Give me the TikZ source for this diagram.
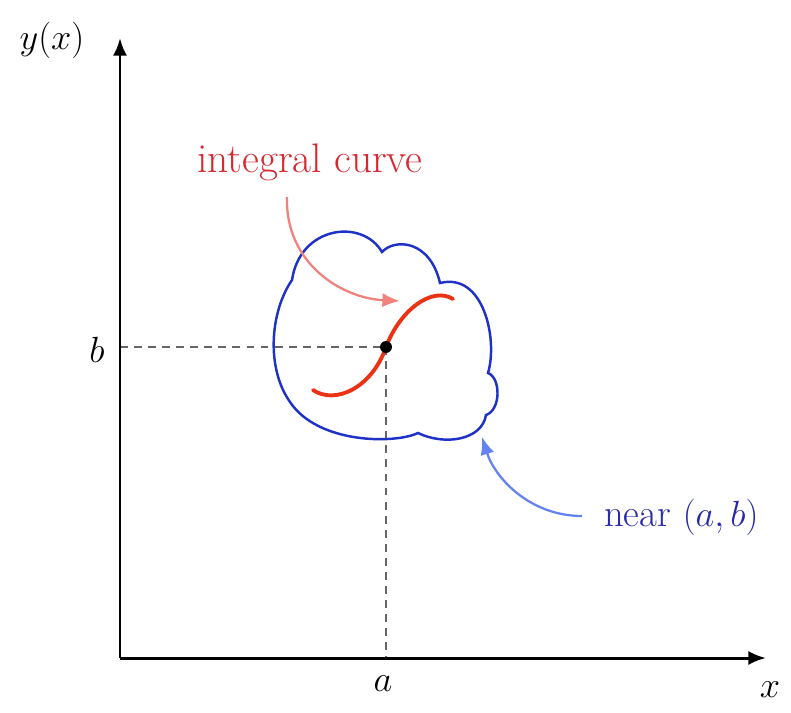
\documentclass[tikz,border=0pt]{standalone}
\usetikzlibrary{arrows.meta}
\definecolor{blobblue}{RGB}{30,50,200}
\definecolor{txtblue}{RGB}{40,40,170}
\definecolor{arrblue}{RGB}{100,130,240}
\definecolor{curvered}{RGB}{235,50,20}
\definecolor{txtred}{RGB}{215,40,50}
\definecolor{salmon}{RGB}{240,130,125}
\tikzset{
  axis/.style={line width=1.7pt,-{Latex[length=10pt,width=8pt]}},
  guide/.style={line width=1.4pt,gray!80!black,dash pattern=on 4.5pt off 3.5pt},
  lbl/.style={font=\fontsize{23.5}{28}\selectfont},
  nearlbl/.style={font=\fontsize{22}{26}\selectfont},
  axlbl/.style={font=\fontsize{20}{24}\selectfont},
  pointer/.style={line width=1.3pt,-{Latex[length=10pt,width=8pt]}}
}
\begin{document}
\begin{tikzpicture}[x=0.02cm,y=-0.02cm]
\useasboundingbox (0,0) rectangle (791,713);
\coordinate (O) at (120,658);
\coordinate (ytip) at (120,38);
\coordinate (xtip) at (766,658);
\coordinate (P) at (386,347);
\coordinate (Pb) at (120,347);
\coordinate (Pa) at (386,658);
% guides
\draw[guide] (Pb) -- (P);
\draw[guide] (P) -- (Pa);
% axes
\draw[axis] (O) -- (ytip);
\draw[axis] (O) -- (xtip);
\node[axlbl] (ylab) at (52,40) {$y(x)$};
\node[axlbl] (xlab) at (770,690) {$x$};
\node[axlbl] (alab) at (383,684) {$a$};
\node[axlbl] (blab) at (97,350) {$b$};
% blob
\draw[blobblue,line width=1.4pt]
  (292,280) .. controls (300,226) and (362,218) .. (382,252)
  .. controls (395,238) and (430,240) .. (440,283)
  .. controls (484,272) and (498,340) .. (488,373)
  .. controls (501,378) and (501,410) .. (486,415)
  .. controls (482,440) and (445,446) .. (418,433)
  .. controls (395,444) and (318,444) .. (290,402)
  .. controls (266,368) and (270,312) .. (292,280) -- cycle;
% integral curve
\draw[curvered,line width=2.2pt,line cap=round]
  (313,390) .. controls (335,405) and (372,388) .. (P)
  .. controls (400,310) and (432,286) .. (453,299);
\fill[black] (P) circle (3.4pt);
% labels
\node[lbl,text=txtred] (ic) at (310,162) {integral curve};
\node[nearlbl,text=txtblue,anchor=west] (near) at (598,517) {near $(a,b)$};
\coordinate (icstart) at (287,197);
\coordinate (ictip) at (400,301);
\coordinate (nearstart) at (582,516);
\coordinate (neartip) at (482,437);
\draw[pointer,salmon] (icstart) .. controls (285,262) and (340,298) .. (ictip);
\draw[pointer,arrblue] (nearstart) .. controls (530,516) and (495,478) .. (neartip);
\end{tikzpicture}
\end{document}
